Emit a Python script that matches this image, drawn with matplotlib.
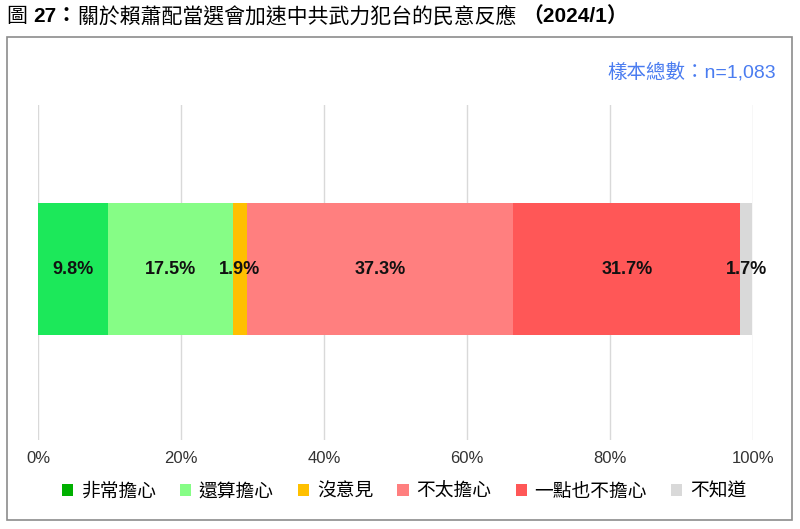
import matplotlib
matplotlib.use("Agg")
import matplotlib.pyplot as plt
from matplotlib.patches import Rectangle, Patch

plt.rcParams['font.family'] = ['Liberation Sans', 'Noto Sans CJK TC', 'DejaVu Sans']

categories = ['非常擔心', '還算擔心', '沒意見', '不太擔心', '一點也不擔心', '不知道']
values = [9.8, 17.5, 1.9, 37.3, 31.7, 1.7]
bar_colors = ['#1ce85a', '#86fd86', '#ffc000', '#ff7f7f', '#ff5757', '#d9d9d9']
legend_colors = ['#00b000', '#86fd86', '#ffc000', '#ff7f7f', '#ff5757', '#d9d9d9']
x_ticks = [0, 20, 40, 60, 80, 100]
x_ticklabels = ['0%', '20%', '40%', '60%', '80%', '100%']
title_parts = [('圖 ', 'normal'), ('27：', 'bold'),
               ('關於賴蕭配當選會加速中共武力犯台的民意反應 ', 'normal'),
               ('（2024/1）', 'bold')]

fig = plt.figure(figsize=(8, 5.29), dpi=100)

# outer frame
fig.patches.append(Rectangle((7 / 800, 1 - 520 / 529), 785 / 800, 483 / 529,
                             transform=fig.transFigure, fill=False,
                             edgecolor='#8c8c8c', linewidth=1.2))

# title pieces placed one after another
renderer = fig.canvas.get_renderer()
x = 7
for s, w in title_parts:
    t = fig.text(x / 800, 1 - 16 / 529, s, fontsize=15, fontweight=w,
                 va='center', ha='left')
    x += t.get_window_extent(renderer).width

fig.text(776 / 800, 1 - 73 / 529, '樣本總數：n=1,083', fontsize=14, color='#4a7cf0',
         va='center', ha='right')

ax = fig.add_axes([38 / 800, 1 - 440 / 529, 715 / 800, 335 / 529])
left = 0
for v, c in zip(values, bar_colors):
    ax.barh(0.51, v, left=left, height=0.394, color=c, zorder=2)
    ax.text(left + v / 2, 0.51, f'{v}%', ha='center', va='center',
            fontsize=13, fontweight='bold', color='#111111', zorder=3)
    left += v

ax.set_xlim(0, 100)
ax.set_ylim(0, 1)
ax.set_xticks(x_ticks)
ax.set_xticklabels(x_ticklabels, fontsize=12, color='#333333')
ax.set_yticks([])
ax.tick_params(axis='x', length=0, pad=8)
ax.grid(axis='x', color='#d9d9d9', linewidth=1, zorder=0)
for s in ax.spines.values():
    s.set_visible(False)

handles = [Patch(facecolor=c, edgecolor='none') for c in legend_colors]
fig.legend(handles, categories, loc='center', bbox_to_anchor=(404 / 800, 1 - 492 / 529),
           ncol=6, frameon=False, fontsize=13.5, handlelength=0.6, handleheight=0.6,
           handletextpad=0.4, columnspacing=1.3)

fig.savefig('out.png', dpi=100)
